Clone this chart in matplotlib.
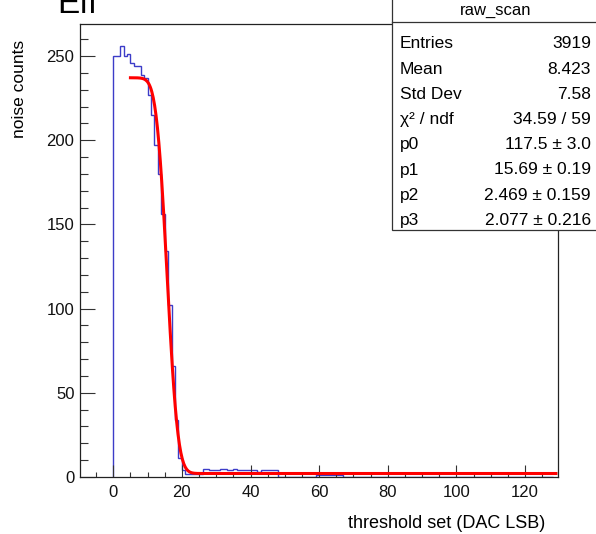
import math
import numpy as np
import matplotlib
matplotlib.use("Agg")
import matplotlib.pyplot as plt
from matplotlib.patches import Rectangle
from matplotlib.ticker import MultipleLocator

plt.rcParams['font.family'] = ['Liberation Sans Narrow', 'Liberation Sans', 'DejaVu Sans']

# threshold scan histogram, one bin per DAC step starting at 0
counts = [250, 250, 256, 250, 251, 246, 244, 244, 239, 237,
          227, 215, 197, 180, 156, 134, 102, 66, 34, 11,
          4, 2, 2, 2, 2, 2, 5, 5, 4, 4,
          4, 5, 5, 4, 4, 5, 4, 4, 4, 4,
          4, 4, 3, 4, 4, 4, 4, 4, 0, 0,
          0, 0, 0, 0, 0, 0, 0, 0, 0, 1,
          1, 1, 1, 1, 1, 1, 1] + [0] * 61
edges = np.arange(len(counts) + 1)

# s-curve fit results
p0, p1, p2, p3 = 117.5, 15.69, 2.469, 2.077
fit_range = (5, 129)

stats_names = ["Entries", "Mean", "Std Dev", "χ² / ndf", "p0", "p1", "p2", "p3"]
stats_vals = ["3919", "8.423", "7.58", "34.59 / 59",
              "117.5 ± 3.0", "15.69 ± 0.19", "2.469 ± 0.159", "2.077 ± 0.216"]

W, H = 596, 534
def fx(x):
    return x / W
def fy(y):
    return 1 - y / H

fig = plt.figure(figsize=(W / 100, H / 100), dpi=100)
ax = fig.add_axes([fx(80), fy(477), (558 - 80) / W, (477 - 24) / H])

ax.stairs(counts, edges, color='#3c3cc8', lw=1.0)

xf = np.linspace(fit_range[0], fit_range[1], 600)
yf = np.array([p0 * math.erfc((v - p1) / (math.sqrt(2) * p2)) + p3 for v in xf])
ax.plot(xf, yf, color='#ff0000', lw=2.2)

ax.set_xlim(-9.7, 129.6)
ax.set_ylim(0, 269)

ax.xaxis.set_major_locator(MultipleLocator(20))
ax.xaxis.set_minor_locator(MultipleLocator(5))
ax.yaxis.set_major_locator(MultipleLocator(50))
ax.yaxis.set_minor_locator(MultipleLocator(10))
ax.tick_params(axis='both', which='both', direction='in', top=False, right=False,
               color='#333333', width=0.8, labelsize=12, labelcolor='#111111')
ax.tick_params(axis='x', which='major', length=8.6, pad=6)
ax.tick_params(axis='x', which='minor', length=3.6)
ax.tick_params(axis='y', which='major', length=10.8, pad=4)
ax.tick_params(axis='y', which='minor', length=5.8)
for s in ax.spines.values():
    s.set_linewidth(0.9)
    s.set_color('#222222')

fig.text(fx(20), fy(40), "noise counts", rotation=90, ha='center', va='top', fontsize=12.5)
fig.text(fx(545), fy(524), "threshold set (DAC LSB)", ha='right', va='center', fontsize=13)
fig.text(fx(57), fy(13), "Eff", ha='left', va='baseline', fontsize=24)

# statistics box
box = Rectangle((fx(392), fy(230)), (W + 5 - 392) / W, 240 / H, transform=fig.transFigure,
                facecolor='white', edgecolor='#333333', lw=0.9, zorder=10)
fig.patches.append(box)
fig.add_artist(plt.Line2D([fx(392), fx(W + 5)], [fy(22), fy(22)], color='#333333', lw=0.9,
                          transform=fig.transFigure, zorder=11))
fig.text(fx(496), fy(11), "raw_scan", ha='center', va='center', fontsize=12, zorder=12)
for i, (name, val) in enumerate(zip(stats_names, stats_vals)):
    y = fy(44 + i * 25.2)
    fig.text(fx(400), y, name, ha='left', va='center', fontsize=12.5, zorder=12)
    fig.text(fx(591), y, val, ha='right', va='center', fontsize=12.5, zorder=12)

fig.savefig("out.png", dpi=100)
